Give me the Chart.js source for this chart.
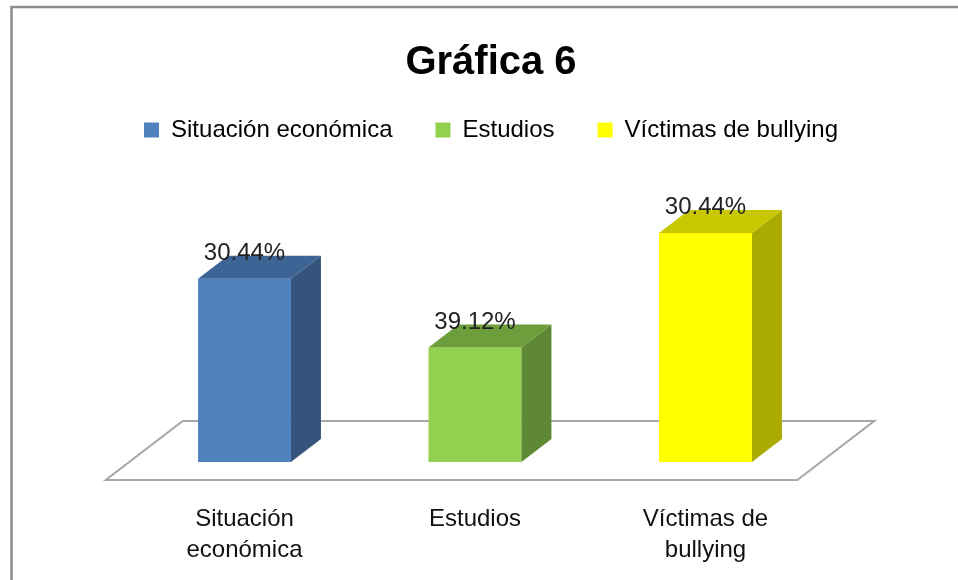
<!DOCTYPE html>
<html>
<head>
<meta charset="utf-8">
<script src="https://cdn.jsdelivr.net/npm/chart.js@4.4.1/dist/chart.umd.min.js"></script>
<style>
  html, body { margin: 0; padding: 0; background: #fff; }
  #grafica { display: block; }
</style>
</head>
<body>
<canvas id="grafica" width="958" height="580"></canvas>
<script>
// datos de la gráfica
const categorias = [['Situación', 'económica'], 'Estudios', ['Víctimas de', 'bullying']];
const nombresLeyenda = ['Situación económica', 'Estudios', 'Víctimas de bullying'];
const valores = [34.78, 21.74, 43.48];
const etiquetas = ['30.44%', '39.12%', '30.44%'];

const coloresFrente = ['#4F81BD', '#92D050', '#FFFF00'];
const coloresLado = ['#34547E', '#5F8834', '#AAAA00'];
const coloresArriba = ['#3D6494', '#6E9D3C', '#C8C800'];

const FUENTE = "'Liberation Sans', Arial, sans-serif";
const PROF_X = 30, PROF_Y = -23; // profundidad de las barras

// marco, piso y caras 3D
const efecto3D = {
    id: 'efecto3D',
    beforeDraw(chart) {
        const ctx = chart.ctx;
        ctx.save();
        ctx.fillStyle = '#fff';
        ctx.fillRect(0, 0, chart.width, chart.height);
        ctx.strokeStyle = '#8C8C8C';
        ctx.lineWidth = 2.5;
        ctx.beginPath();
        ctx.moveTo(11.5, chart.height);
        ctx.lineTo(11.5, 7);
        ctx.lineTo(chart.width, 7);
        ctx.stroke();
        ctx.restore();
    },
    beforeDatasetsDraw(chart) {
        const ctx = chart.ctx;
        const area = chart.chartArea;
        const base = chart.scales.y.getPixelForValue(0);
        ctx.save();
        ctx.strokeStyle = '#A6A6A6';
        ctx.lineWidth = 2;
        ctx.fillStyle = '#fff';
        ctx.beginPath();
        ctx.moveTo(area.left - 23.5, base + 18);
        ctx.lineTo(area.right - 23.5, base + 18);
        ctx.lineTo(area.right + 53.5, base - 41);
        ctx.lineTo(area.left + 53.5, base - 41);
        ctx.closePath();
        ctx.fill();
        ctx.stroke();
        ctx.restore();
    },
    afterDatasetsDraw(chart) {
        const ctx = chart.ctx;
        const meta = chart.getDatasetMeta(0);
        ctx.save();
        meta.data.forEach((bar, i) => {
            const p = bar.getProps(['x', 'y', 'base', 'width'], true);
            const izq = p.x - p.width / 2, der = p.x + p.width / 2;
            // lado
            ctx.fillStyle = coloresLado[i];
            ctx.beginPath();
            ctx.moveTo(der, p.y);
            ctx.lineTo(der + PROF_X, p.y + PROF_Y);
            ctx.lineTo(der + PROF_X, p.base + PROF_Y);
            ctx.lineTo(der, p.base);
            ctx.closePath();
            ctx.fill();
            // arriba
            ctx.fillStyle = coloresArriba[i];
            ctx.beginPath();
            ctx.moveTo(izq, p.y);
            ctx.lineTo(izq + PROF_X, p.y + PROF_Y);
            ctx.lineTo(der + PROF_X, p.y + PROF_Y);
            ctx.lineTo(der, p.y);
            ctx.closePath();
            ctx.fill();
            // etiqueta
            ctx.fillStyle = '#222';
            ctx.font = '24px ' + FUENTE;
            ctx.textAlign = 'center';
            ctx.textBaseline = 'alphabetic';
            ctx.fillText(etiquetas[i], p.x, p.y - 19);
        });
        ctx.restore();
    }
};

new Chart(document.getElementById('grafica'), {
    type: 'bar',
    data: {
        labels: categorias,
        datasets: [{
            data: valores,
            backgroundColor: coloresFrente,
            borderWidth: 0,
            barPercentage: 0.403,
            categoryPercentage: 1
        }]
    },
    options: {
        responsive: false,
        animation: false,
        layout: { padding: { left: 24, right: 0, top: 0, bottom: 0 } },
        plugins: {
            tooltip: { enabled: false },
            title: {
                display: true,
                text: 'Gráfica 6',
                color: '#000',
                font: { family: FUENTE, size: 40, weight: 'bold', lineHeight: 0.6 },
                padding: { top: 51, bottom: 0 }
            },
            legend: {
                display: true,
                labels: {
                    color: '#111',
                    font: { family: FUENTE, size: 24 },
                    boxWidth: 15,
                    boxHeight: 15,
                    padding: 43,
                    generateLabels: () => nombresLeyenda.map((n, i) => ({
                        text: n,
                        fillStyle: coloresFrente[i],
                        strokeStyle: coloresFrente[i],
                        lineWidth: 0,
                        index: i
                    }))
                }
            }
        },
        scales: {
            x: {
                grid: { display: false },
                border: { display: false },
                ticks: {
                    color: '#111',
                    font: { family: FUENTE, size: 24, lineHeight: 1.3 },
                    padding: 34,
                    maxRotation: 0,
                    autoSkip: false
                },
                afterFit: s => { s.height = 118; }
            },
            y: {
                min: 0,
                max: 58.86,
                display: true,
                ticks: { display: false },
                grid: { display: false },
                border: { display: false },
                afterFit: s => { s.width = 105.25; }
            },
            y2: {
                type: 'linear',
                position: 'right',
                display: true,
                ticks: { display: false },
                grid: { display: false },
                border: { display: false },
                afterFit: s => { s.width = 137.25; }
            }
        }
    },
    plugins: [efecto3D]
});
</script>
</body>
</html>
